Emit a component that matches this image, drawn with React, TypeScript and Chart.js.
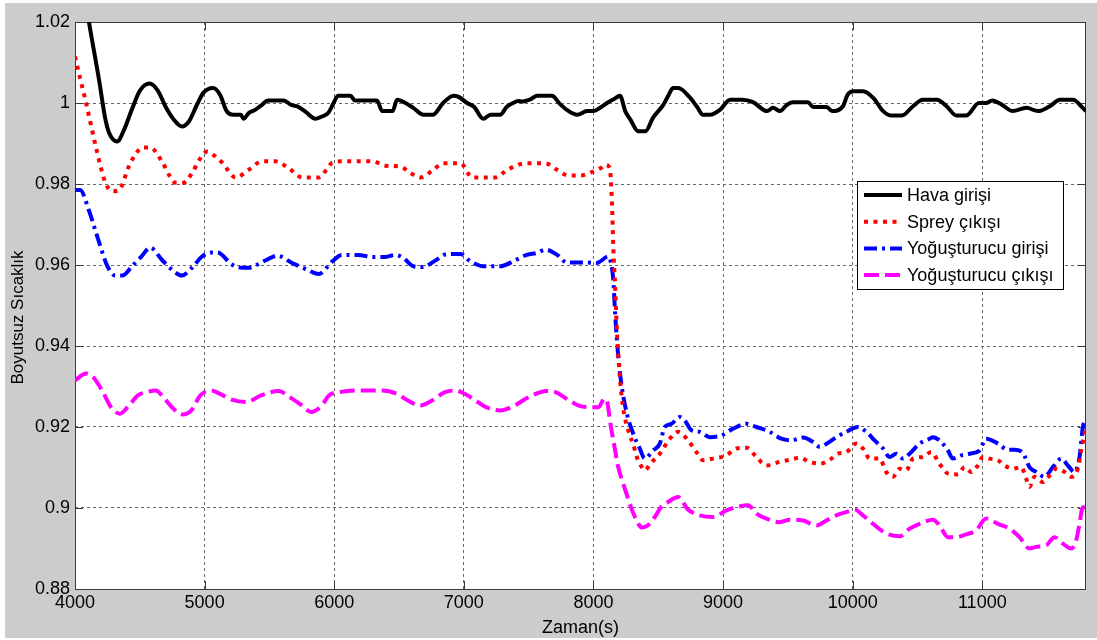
import { useEffect, useRef } from "react";
import { Chart, registerables } from "chart.js";

Chart.register(...registerables);

const FONT = "'Liberation Sans', Arial, sans-serif";

const seriesNames = ["Hava girişi", "Sprey çıkışı", "Yoğuşturucu girişi", "Yoğuşturucu çıkışı"];
const seriesColors = ["#000000", "#ff0000", "#0000ff", "#ff00ff"];

const xTitle = "Zaman(s)";
const yTitle = "Boyutsuz Sıcaklık";

const xTicks = [4000, 5000, 6000, 7000, 8000, 9000, 10000, 11000];
const xTickLabels = ["4000", "5000", "6000", "7000", "8000", "9000", "10000", "11000"];
const yTicks = [0.88, 0.9, 0.92, 0.94, 0.96, 0.98, 1.0, 1.02];
const yTickLabels = ["0.88", "0.9", "0.92", "0.94", "0.96", "0.98", "1", "1.02"];

const havaT = [4000, 4104, 4185, 4235, 4265, 4325, 4380, 4440, 4500, 4575, 4640, 4700, 4760, 4826, 4880, 4940, 4990, 5065, 5120, 5170, 5220, 5280, 5300, 5340, 5390, 5440, 5490, 5610, 5670, 5720, 5780, 5855, 5900, 5955, 5995, 6030, 6125, 6160, 6330, 6370, 6450, 6485, 6550, 6610, 6690, 6760, 6840, 6920, 6960, 7025, 7080, 7150, 7205, 7280, 7330, 7380, 7420, 7455, 7520, 7565, 7680, 7740, 7795, 7875, 7950, 8000, 8060, 8105, 8160, 8205, 8245, 8285, 8345, 8400, 8460, 8540, 8580, 8615, 8655, 8745, 8800, 8845, 8900, 8975, 9055, 9150, 9230, 9340, 9385, 9440, 9490, 9540, 9655, 9695, 9800, 9840, 9925, 9960, 10005, 10080, 10160, 10235, 10300, 10380, 10465, 10540, 10650, 10725, 10800, 10875, 10975, 11030, 11075, 11150, 11235, 11340, 11430, 11520, 11600, 11700, 11775, 11800];
const havaV = [1.042, 1.0207, 1.0058, 0.9959, 0.9925, 0.9905, 0.9935, 0.9985, 1.003, 1.0048, 1.003, 0.999, 0.996, 0.9942, 0.9955, 0.9995, 1.0025, 1.0037, 1.002, 0.998, 0.9971, 0.9971, 0.9961, 0.9975, 0.9983, 0.9995, 1.0006, 1.0006, 0.9995, 0.9991, 0.9978, 0.9961, 0.9966, 0.9976, 1.0, 1.0018, 1.0018, 1.0006, 1.0006, 0.998, 0.998, 1.0008, 1.0, 0.9988, 0.9971, 0.9971, 1.0, 1.0018, 1.0015, 1.0, 0.999, 0.9961, 0.9971, 0.9971, 0.999, 1.0, 1.0005, 1.0004, 1.001, 1.0018, 1.0018, 0.9998, 0.9983, 0.9971, 0.998, 0.998, 0.999, 1.0, 1.001, 1.0018, 0.998, 0.9959, 0.993, 0.993, 0.9964, 0.9996, 1.002, 1.0037, 1.0037, 1.0013, 0.999, 0.9971, 0.9971, 0.9983, 1.0008, 1.0008, 1.0002, 0.998, 0.9988, 0.998, 0.9995, 1.0002, 1.0002, 0.999, 0.999, 0.998, 0.9992, 1.002, 1.0029, 1.0029, 1.0012, 0.998, 0.9969, 0.9969, 0.9992, 1.0008, 1.0008, 0.9992, 0.9969, 0.9969, 1.0, 1.0, 1.0006, 0.9996, 0.998, 0.9988, 0.998, 0.9992, 1.0008, 1.0008, 0.9988, 0.998];

const spreyT = [4000, 4040, 4080, 4120, 4160, 4200, 4235, 4285, 4340, 4415, 4470, 4520, 4580, 4675, 4730, 4775, 4835, 4905, 4960, 5020, 5075, 5135, 5240, 5340, 5445, 5545, 5645, 5755, 5880, 5940, 5985, 6060, 6295, 6395, 6510, 6585, 6665, 6765, 6840, 6975, 7065, 7245, 7335, 7475, 7630, 7720, 7805, 7900, 7975, 8060, 8090, 8125, 8143, 8153, 8167, 8183, 8205, 8230, 8283, 8306, 8330, 8357, 8396, 8440, 8512, 8589, 8653, 8730, 8794, 8846, 8923, 9026, 9103, 9180, 9257, 9334, 9437, 9514, 9591, 9668, 9745, 9822, 9887, 9951, 10028, 10079, 10131, 10208, 10259, 10311, 10362, 10413, 10465, 10542, 10606, 10670, 10735, 10812, 10863, 10915, 10966, 11005, 11056, 11120, 11172, 11236, 11300, 11339, 11364, 11403, 11467, 11519, 11570, 11634, 11686, 11737, 11763, 11789, 11800];
const spreyV = [1.0115, 1.006, 1.0008, 0.995, 0.9893, 0.984, 0.9803, 0.9782, 0.9785, 0.9843, 0.9875, 0.989, 0.989, 0.9853, 0.982, 0.9803, 0.9803, 0.9828, 0.986, 0.988, 0.987, 0.9853, 0.9816, 0.9835, 0.9856, 0.9856, 0.984, 0.9816, 0.9816, 0.9835, 0.9853, 0.9856, 0.9856, 0.9845, 0.9843, 0.9828, 0.9816, 0.9835, 0.9851, 0.9851, 0.9816, 0.9816, 0.9835, 0.9851, 0.9851, 0.9835, 0.9821, 0.9821, 0.9828, 0.984, 0.9848, 0.984, 0.9753, 0.9645, 0.9547, 0.9424, 0.9317, 0.9245, 0.9177, 0.9159, 0.913, 0.911, 0.9093, 0.911, 0.9134, 0.9171, 0.9188, 0.9167, 0.9138, 0.9118, 0.9122, 0.913, 0.9147, 0.9149, 0.9126, 0.9105, 0.9114, 0.9119, 0.9124, 0.9114, 0.9109, 0.9119, 0.9134, 0.9138, 0.9159, 0.9147, 0.9122, 0.9122, 0.9089, 0.9077, 0.9097, 0.9093, 0.9122, 0.9126, 0.9138, 0.9109, 0.9085, 0.9083, 0.9101, 0.9089, 0.9105, 0.9126, 0.9122, 0.9118, 0.9105, 0.9097, 0.9101, 0.9072, 0.9052, 0.9077, 0.9064, 0.908, 0.9097, 0.9089, 0.9077, 0.9097, 0.9142, 0.9184, 0.92];

const girisT = [4000, 4040, 4105, 4180, 4250, 4310, 4365, 4440, 4510, 4580, 4670, 4750, 4825, 4905, 4980, 5060, 5100, 5210, 5290, 5340, 5400, 5480, 5560, 5675, 5780, 5880, 5985, 6060, 6185, 6285, 6395, 6470, 6535, 6610, 6680, 6790, 6870, 6975, 7050, 7150, 7280, 7380, 7485, 7565, 7630, 7720, 7795, 7950, 8025, 8115, 8135, 8153, 8167, 8190, 8218, 8257, 8306, 8357, 8396, 8460, 8512, 8550, 8602, 8666, 8705, 8756, 8820, 8897, 8987, 9077, 9180, 9257, 9360, 9450, 9527, 9617, 9694, 9745, 9810, 9874, 9951, 10041, 10105, 10169, 10234, 10285, 10336, 10388, 10439, 10516, 10593, 10619, 10670, 10735, 10773, 10838, 10902, 10979, 11030, 11120, 11197, 11249, 11313, 11364, 11416, 11480, 11544, 11609, 11660, 11711, 11750, 11776, 11800];
const girisV = [0.9785, 0.9785, 0.9737, 0.9662, 0.9597, 0.9574, 0.9574, 0.9597, 0.962, 0.9643, 0.9613, 0.9588, 0.9574, 0.9594, 0.9621, 0.9631, 0.9631, 0.9601, 0.9593, 0.9593, 0.96, 0.9613, 0.9623, 0.9605, 0.959, 0.9578, 0.9609, 0.9625, 0.9625, 0.962, 0.962, 0.9625, 0.9617, 0.9597, 0.9595, 0.9613, 0.9627, 0.9627, 0.9609, 0.9597, 0.9597, 0.9609, 0.9625, 0.963, 0.9638, 0.9625, 0.9606, 0.9606, 0.9605, 0.9621, 0.9605, 0.9563, 0.948, 0.938, 0.93, 0.9234, 0.9184, 0.9147, 0.9122, 0.9142, 0.9159, 0.92, 0.9208, 0.9225, 0.9216, 0.9192, 0.9188, 0.9175, 0.9179, 0.9196, 0.9208, 0.92, 0.9188, 0.9171, 0.9167, 0.9174, 0.9163, 0.9151, 0.9161, 0.9175, 0.9188, 0.92, 0.9188, 0.9167, 0.9147, 0.9126, 0.9134, 0.9122, 0.9134, 0.9159, 0.9171, 0.9175, 0.9167, 0.9142, 0.9122, 0.913, 0.9134, 0.9142, 0.9171, 0.9159, 0.9144, 0.9144, 0.9136, 0.9101, 0.9089, 0.9077, 0.9101, 0.9122, 0.9105, 0.9089, 0.9126, 0.92, 0.9218];

const cikisT = [4000, 4085, 4140, 4209, 4278, 4347, 4416, 4485, 4554, 4623, 4691, 4760, 4829, 4898, 4967, 5050, 5118, 5215, 5325, 5435, 5573, 5656, 5752, 5821, 5904, 5959, 6041, 6179, 6372, 6482, 6565, 6661, 6758, 6854, 6937, 7006, 7088, 7171, 7281, 7391, 7502, 7639, 7708, 7791, 7887, 7970, 8039, 8085, 8108, 8135, 8153, 8190, 8245, 8296, 8340, 8370, 8410, 8476, 8520, 8576, 8653, 8730, 8820, 8923, 9026, 9103, 9193, 9257, 9334, 9437, 9514, 9617, 9720, 9797, 9874, 9951, 10015, 10079, 10156, 10259, 10362, 10439, 10516, 10619, 10670, 10735, 10799, 10876, 10953, 11030, 11120, 11210, 11287, 11364, 11416, 11493, 11557, 11621, 11686, 11724, 11750, 11776, 11800];
const cikisV = [0.9315, 0.9332, 0.9323, 0.929, 0.9249, 0.9233, 0.9253, 0.9278, 0.9286, 0.929, 0.927, 0.9245, 0.9231, 0.9241, 0.9278, 0.929, 0.9282, 0.9267, 0.9262, 0.9278, 0.9289, 0.9274, 0.9253, 0.9237, 0.9253, 0.9278, 0.9286, 0.929, 0.929, 0.9282, 0.9266, 0.9253, 0.9266, 0.9286, 0.929, 0.9282, 0.9266, 0.9249, 0.9241, 0.9253, 0.9274, 0.9289, 0.9286, 0.927, 0.9253, 0.9249, 0.9249, 0.927, 0.9258, 0.92, 0.9168, 0.9103, 0.9045, 0.8996, 0.8965, 0.8952, 0.8955, 0.8979, 0.9002, 0.9015, 0.9027, 0.8996, 0.8982, 0.8978, 0.8994, 0.9002, 0.9007, 0.8986, 0.8974, 0.8965, 0.8971, 0.8969, 0.8957, 0.8969, 0.8982, 0.899, 0.8996, 0.8982, 0.8961, 0.8937, 0.893, 0.8949, 0.8961, 0.8971, 0.8957, 0.8928, 0.8928, 0.8935, 0.8945, 0.8974, 0.8961, 0.8949, 0.8928, 0.89, 0.8904, 0.8908, 0.8928, 0.8912, 0.89, 0.892, 0.8961, 0.9002, 0.9002];

const seriesT = [havaT, spreyT, girisT, cikisT];
const seriesV = [havaV, spreyV, girisV, cikisV];
const seriesDash: number[][] = [[], [4, 5.5], [13, 5, 3, 5], [15, 6]];

const W = 1097;
const H = 640;

const backgroundPlugin = {
  id: "matlabBackground",
  beforeDraw(chart: any) {
    const { ctx, chartArea: a } = chart;
    ctx.save();
    ctx.fillStyle = "#ffffff";
    ctx.fillRect(0, 0, W, H);
    ctx.fillStyle = "#cccccc";
    ctx.fillRect(5, 3, W - 5, H - 5);
    ctx.fillStyle = "#ffffff";
    ctx.fillRect(a.left, a.top, a.right - a.left, a.bottom - a.top);
    ctx.restore();
  },
};

const boxPlugin = {
  id: "matlabBox",
  beforeDatasetsDraw(chart: any) {
    const { ctx, chartArea: a, scales } = chart;
    ctx.save();
    ctx.strokeStyle = "#3a3a3a";
    ctx.lineWidth = 1;
    ctx.setLineDash([]);
    ctx.strokeRect(a.left + 0.5, a.top + 0.5, a.right - a.left - 1, a.bottom - a.top);
    const tl = 8;
    ctx.beginPath();
    for (const v of xTicks) {
      const x = Math.round(scales.x.getPixelForValue(v)) + 0.5;
      ctx.moveTo(x, a.bottom);
      ctx.lineTo(x, a.bottom - tl);
      ctx.moveTo(x, a.top);
      ctx.lineTo(x, a.top + tl);
    }
    for (const v of yTicks) {
      const y = Math.round(scales.y.getPixelForValue(v)) + 0.5;
      ctx.moveTo(a.left, y);
      ctx.lineTo(a.left + tl, y);
      ctx.moveTo(a.right, y);
      ctx.lineTo(a.right - tl, y);
    }
    ctx.stroke();
    // y-axis title (MATLAB places it slightly below the axis centre)
    ctx.fillStyle = "#000000";
    ctx.font = `17px ${FONT}`;
    ctx.textAlign = "center";
    ctx.textBaseline = "middle";
    ctx.translate(18, (a.top + a.bottom) / 2 + 12);
    ctx.rotate(-Math.PI / 2);
    ctx.fillText(yTitle, 0, 0);
    ctx.restore();
  },
};

const legendPlugin = {
  id: "matlabLegend",
  afterDraw(chart: any) {
    const { ctx, chartArea: a } = chart;
    const bx = a.right - 229;
    const by = a.top + 159;
    const bw = 206;
    const bh = 108;
    ctx.save();
    ctx.fillStyle = "#ffffff";
    ctx.fillRect(bx, by, bw, bh);
    ctx.strokeStyle = "#000000";
    ctx.lineWidth = 1;
    ctx.setLineDash([]);
    ctx.strokeRect(bx + 0.5, by + 0.5, bw, bh);
    ctx.font = `18px ${FONT}`;
    ctx.textBaseline = "middle";
    ctx.textAlign = "left";
    chart.data.datasets.forEach((ds: any, i: number) => {
      const y = by + 14 + i * 26.7;
      ctx.strokeStyle = ds.borderColor;
      ctx.lineWidth = 4;
      ctx.lineCap = "butt";
      ctx.setLineDash(ds.borderDash || []);
      ctx.beginPath();
      ctx.moveTo(bx + 7, y);
      ctx.lineTo(bx + 45, y);
      ctx.stroke();
      ctx.setLineDash([]);
      ctx.fillStyle = "#000000";
      ctx.fillText(ds.label, bx + 50, y + 1);
    });
    ctx.restore();
  },
};

export default function App() {
  const canvasRef = useRef<HTMLCanvasElement | null>(null);

  useEffect(() => {
    document.body.style.margin = "0";
    const canvas = canvasRef.current;
    if (!canvas) return;

    const datasets = seriesNames.map((name, i) => ({
      label: name,
      data: seriesT[i].map((t, j) => ({ x: t, y: seriesV[i][j] })),
      borderColor: seriesColors[i],
      backgroundColor: seriesColors[i],
      borderWidth: 4,
      borderDash: seriesDash[i],
      borderCapStyle: "butt" as const,
      borderJoinStyle: "round" as const,
      pointRadius: 0,
      fill: false,
      cubicInterpolationMode: "monotone" as const,
    }));

    const chart = new Chart(canvas, {
      type: "line",
      data: { datasets },
      plugins: [backgroundPlugin, boxPlugin, legendPlugin],
      options: {
        animation: false,
        responsive: false,
        devicePixelRatio: 1,
        layout: { padding: { top: 22, right: 11, left: 0, bottom: 0 } },
        plugins: { legend: { display: false }, tooltip: { enabled: false } },
        scales: {
          x: {
            type: "linear",
            min: 4000,
            max: 11800,
            afterBuildTicks: (s: any) => {
              s.ticks = xTicks.map((v) => ({ value: v }));
            },
            afterFit: (s: any) => {
              s.height = 51;
            },
            ticks: {
              callback: (_v: any, i: number) => xTickLabels[i],
              font: { family: FONT, size: 18 },
              color: "#000000",
              padding: 3,
              maxRotation: 0,
              autoSkip: false,
            },
            grid: { color: "#666666", lineWidth: 1, drawTicks: false },
            border: { display: false, dash: [3, 3] },
            title: {
              display: true,
              text: xTitle,
              font: { family: FONT, size: 18 },
              color: "#000000",
              padding: { top: 0, bottom: 1 },
            },
          },
          y: {
            type: "linear",
            min: 0.88,
            max: 1.02,
            afterBuildTicks: (s: any) => {
              s.ticks = yTicks.map((v) => ({ value: v }));
            },
            afterFit: (s: any) => {
              s.width = 75;
            },
            ticks: {
              callback: (_v: any, i: number) => yTickLabels[i],
              font: { family: FONT, size: 18 },
              color: "#000000",
              padding: 5,
              autoSkip: false,
            },
            grid: { color: "#666666", lineWidth: 1, drawTicks: false },
            border: { display: false, dash: [3, 3] },
          },
        },
      },
    });
    return () => chart.destroy();
  }, []);

  return (
    <div style={{ width: W, height: H }}>
      <canvas ref={canvasRef} width={W} height={H} style={{ display: "block" }} />
    </div>
  );
}
